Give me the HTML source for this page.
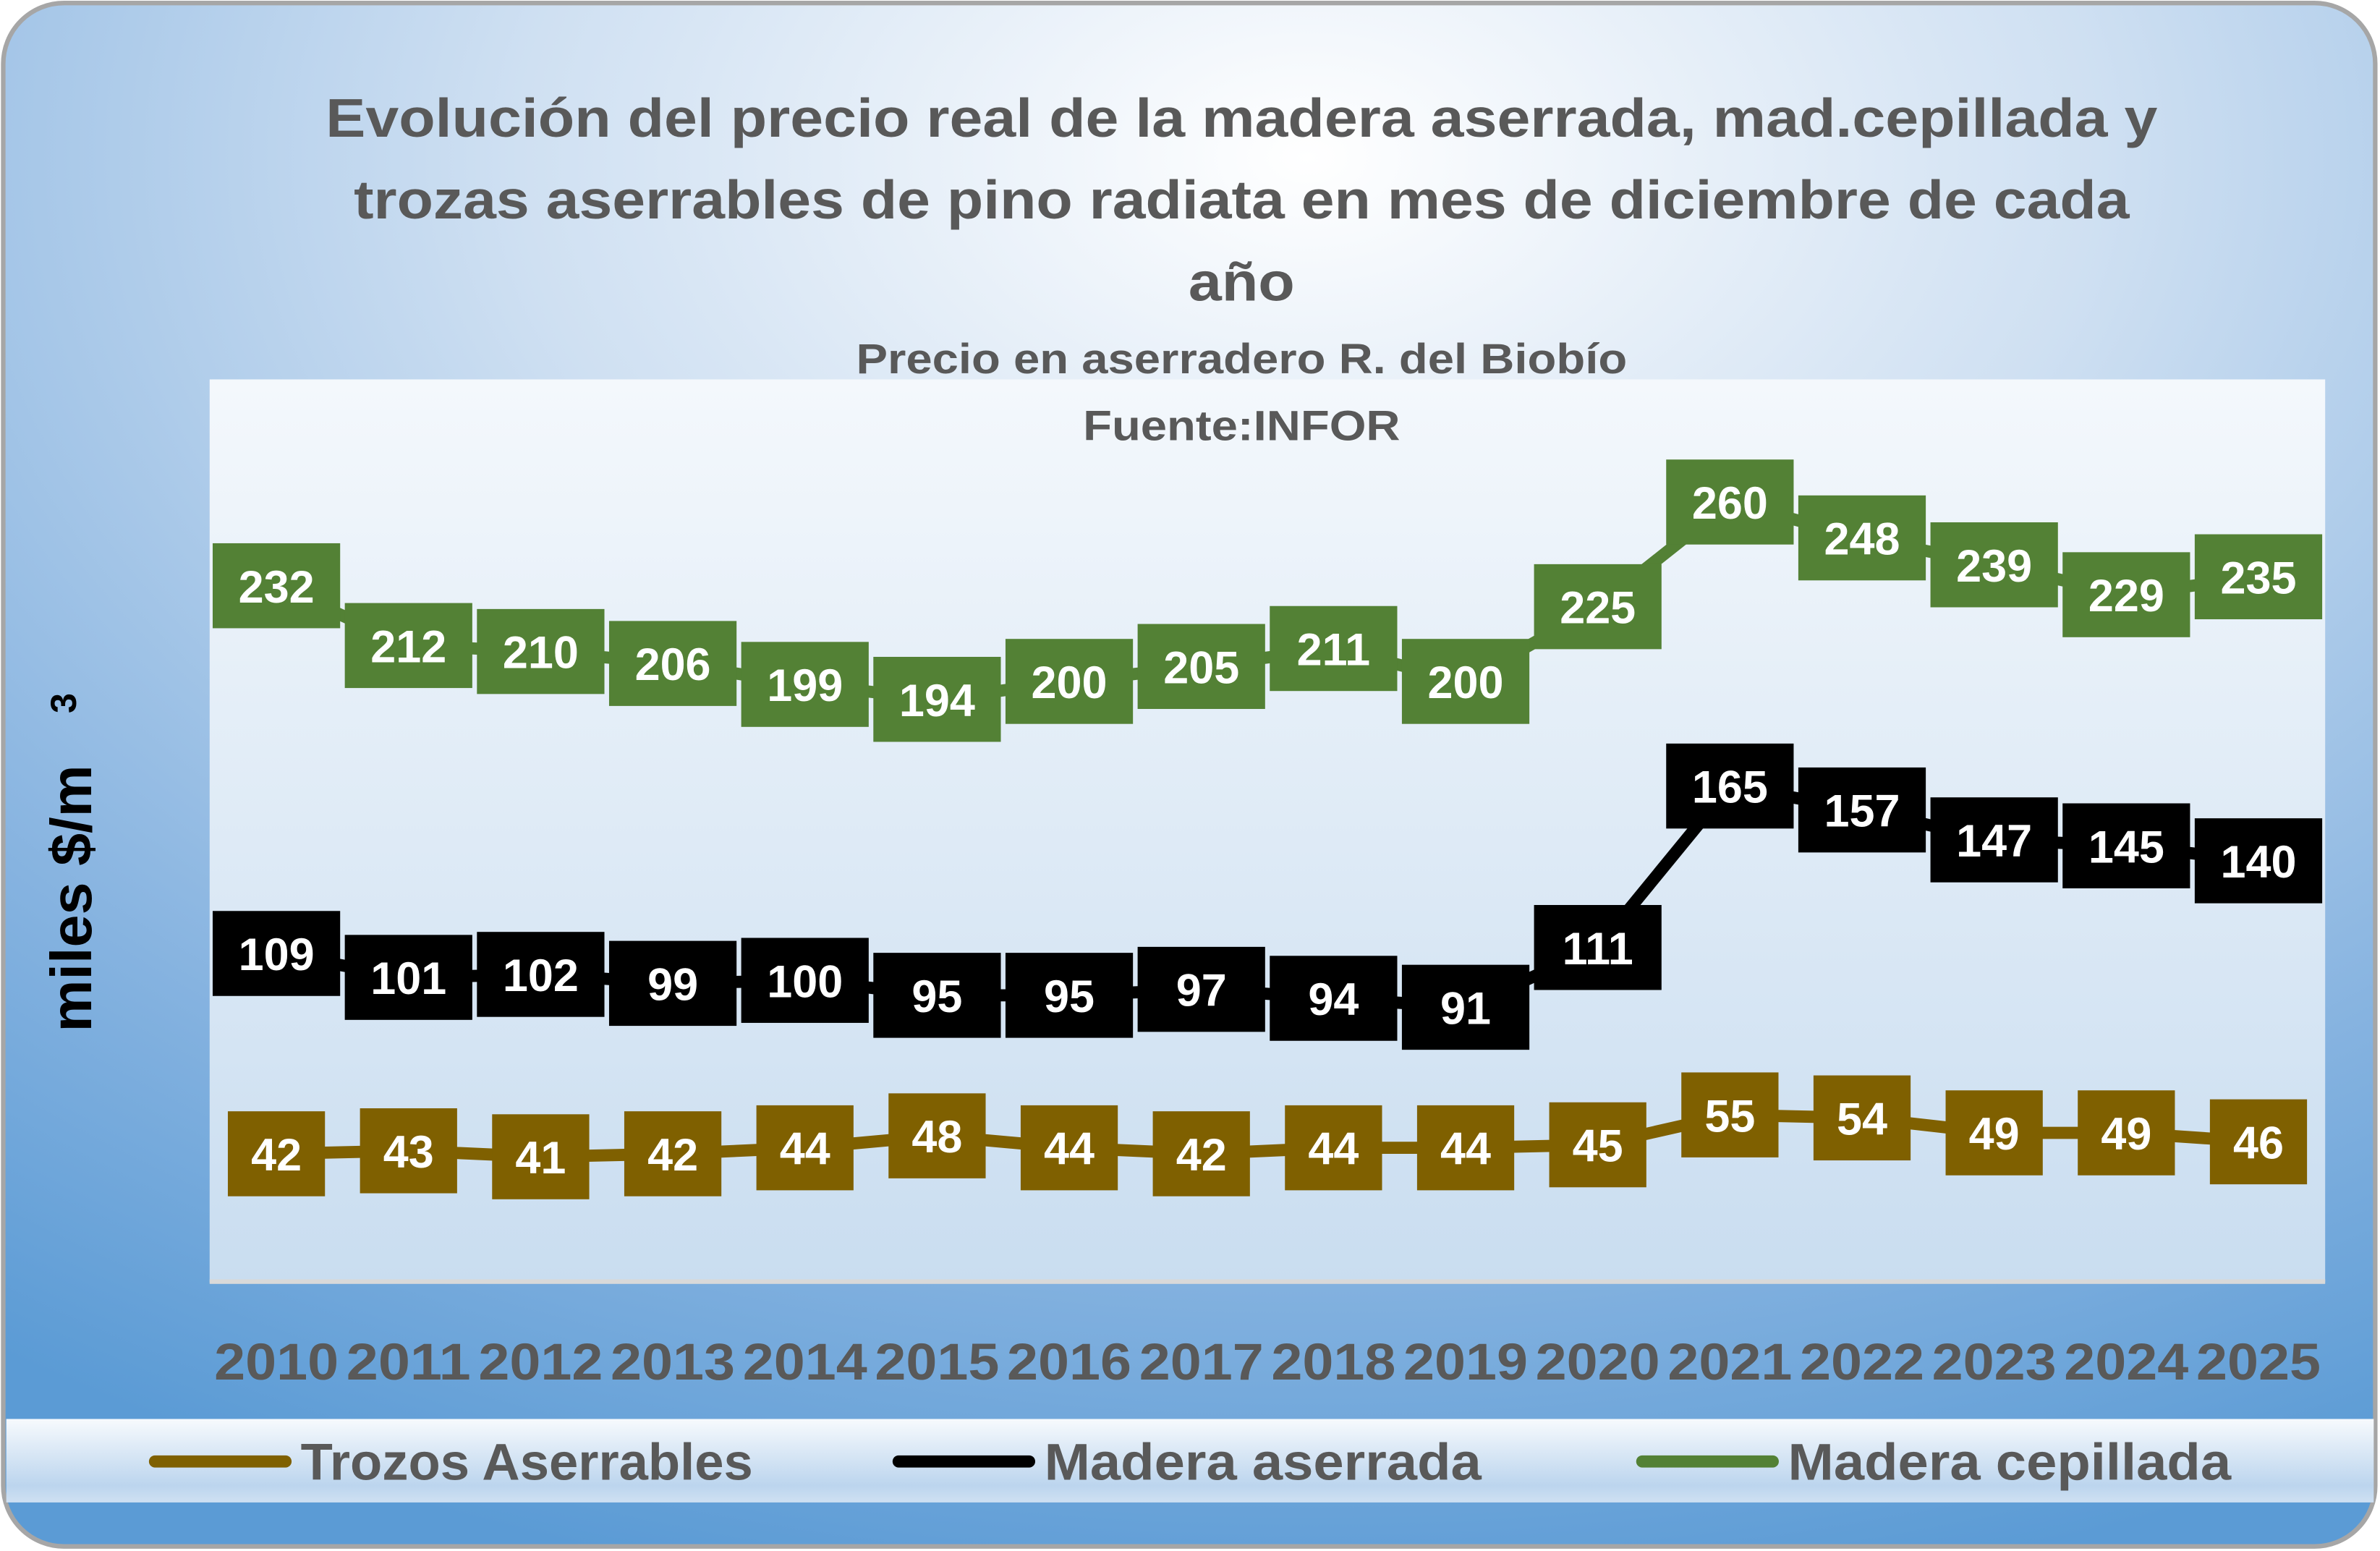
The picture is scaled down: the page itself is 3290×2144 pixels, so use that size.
<!DOCTYPE html>
<html><head><meta charset="utf-8"><style>html,body{margin:0;padding:0;background:#fff}svg{display:block}</style></head><body>
<svg width="3290" height="2144" viewBox="0 0 1568 1022" xmlns="http://www.w3.org/2000/svg" font-family="'Liberation Sans',sans-serif" font-weight="bold">
<defs>
<radialGradient id="bg" cx="0.55" cy="0.1" r="0.95">
<stop offset="0" stop-color="#ffffff"/><stop offset="0.35" stop-color="#cfe0f2"/><stop offset="0.75" stop-color="#86b3e0"/><stop offset="1" stop-color="#5b9bd5"/></radialGradient>
<linearGradient id="pl" x1="0" y1="0" x2="0" y2="1"><stop offset="0" stop-color="#f4f8fc"/><stop offset="1" stop-color="#c9ddf0"/></linearGradient>
<linearGradient id="lg" x1="0" y1="0" x2="0" y2="1"><stop offset="0" stop-color="#f7fafd"/><stop offset="0.8" stop-color="#bcd5ee"/><stop offset="1" stop-color="#cfe0f2"/></linearGradient>
</defs>
<rect x="2" y="2" width="1563" height="1017" rx="40" fill="url(#bg)" stroke="#a6a6a6" stroke-width="3"/>
<rect x="138" y="250" width="1394" height="595" fill="url(#pl)"/>
<rect x="138" y="843" width="1394" height="3" fill="#d9d9d9"/>
<rect x="4" y="935" width="1560" height="55" fill="url(#lg)"/>
<g fill="#595959" text-anchor="middle">
<text x="818" y="90" font-size="36" textLength="1207" lengthAdjust="spacingAndGlyphs">Evolución del precio real de la madera aserrada, mad.cepillada y</text>
<text x="818" y="144" font-size="36" textLength="1170" lengthAdjust="spacingAndGlyphs">trozas aserrables de pino radiata en mes de diciembre de cada</text>
<text x="818" y="198" font-size="36" textLength="70" lengthAdjust="spacingAndGlyphs">año</text>
<text x="818" y="246" font-size="28" textLength="508" lengthAdjust="spacingAndGlyphs">Precio en aserradero R. del Biobío</text>
<text x="818" y="290" font-size="28" textLength="209" lengthAdjust="spacingAndGlyphs">Fuente:INFOR</text>
</g>
<text transform="translate(60,680) rotate(-90)" font-size="38" fill="#000" textLength="176" lengthAdjust="spacingAndGlyphs">miles $/m</text>
<text transform="translate(50,470) rotate(-90)" font-size="24" fill="#000">3</text>
<g id="years" fill="#595959" font-size="34" text-anchor="middle"></g>
<g id="lines"></g>
<g id="boxes" font-size="30" fill="#fff" text-anchor="middle"></g>
<g stroke-width="8" stroke-linecap="round">
<line x1="102" y1="963" x2="188" y2="963" stroke="#7f6000"/>
<line x1="592" y1="963" x2="678" y2="963" stroke="#000"/>
<line x1="1082" y1="963" x2="1168" y2="963" stroke="#538135"/>
</g>
<g fill="#595959" font-size="34">
<text x="198" y="975" textLength="298" lengthAdjust="spacingAndGlyphs">Trozos Aserrables</text>
<text x="688" y="975" textLength="288" lengthAdjust="spacingAndGlyphs">Madera aserrada</text>
<text x="1178" y="975" textLength="292" lengthAdjust="spacingAndGlyphs">Madera cepillada</text>
</g>
<script>
var ns="http://www.w3.org/2000/svg";
var g=[232,212,210,206,199,194,200,205,211,200,225,260,248,239,229,235];
var b=[109,101,102,99,100,95,95,97,94,91,111,165,157,147,145,140];
var t=[42,43,41,42,44,48,44,42,44,44,45,55,54,49,49,46];
function X(i){return 182+i*87.07}function Y(v){return 843-1.97*v}
var yg=document.getElementById('years'),lg=document.getElementById('lines'),bg=document.getElementById('boxes');
for(var i=0;i<16;i++){var e=document.createElementNS(ns,'text');e.setAttribute('x',X(i));e.setAttribute('y',909);e.setAttribute('textLength',82);e.setAttribute('lengthAdjust','spacingAndGlyphs');e.textContent=2010+i;yg.appendChild(e);}
[[t,'#7f6000',64],[b,'#000',84],[g,'#538135',84]].forEach(function(s){
var p=s[0].map(function(v,i){return X(i)+','+Y(v)}).join(' ');
var l=document.createElementNS(ns,'polyline');l.setAttribute('points',p);l.setAttribute('fill','none');l.setAttribute('stroke',s[1]);l.setAttribute('stroke-width',8);l.setAttribute('stroke-linejoin','round');lg.appendChild(l);
s[0].forEach(function(v,i){var r=document.createElementNS(ns,'rect');r.setAttribute('x',X(i)-s[2]/2);r.setAttribute('y',Y(v)-28);r.setAttribute('width',s[2]);r.setAttribute('height',56);r.setAttribute('fill',s[1]);bg.appendChild(r);
var e=document.createElementNS(ns,'text');e.setAttribute('x',X(i));e.setAttribute('y',Y(v)+11);e.textContent=v;bg.appendChild(e);});
});
</script>
</svg>
</body></html>
